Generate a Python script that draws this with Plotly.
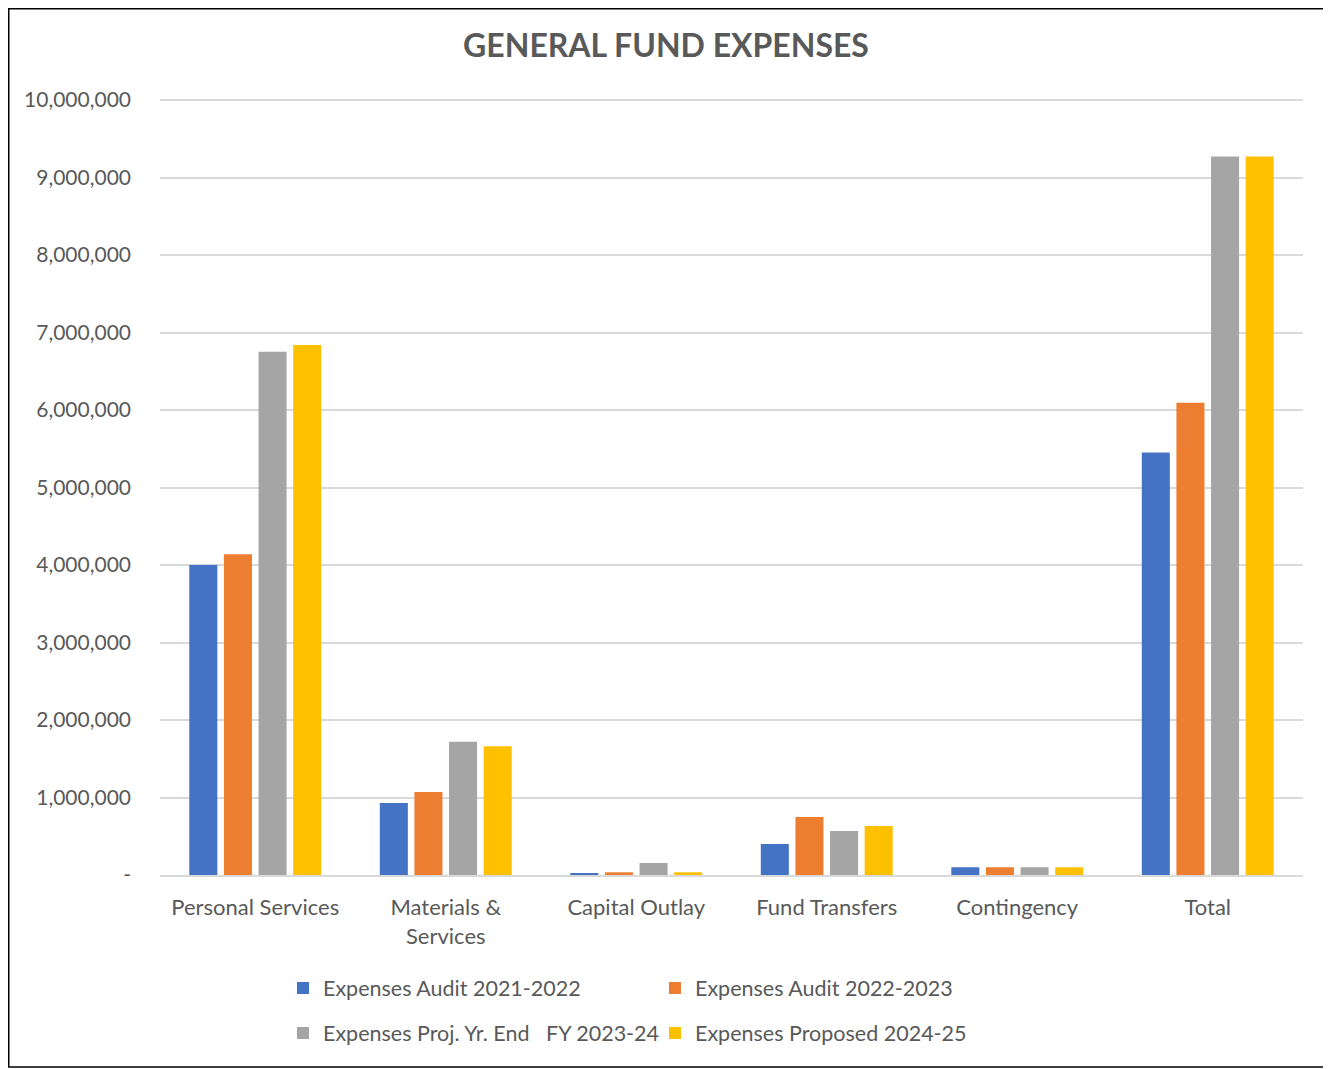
import plotly.graph_objects as go

categories = ["Personal Services", "Materials &<br>Services", "Capital Outlay",
              "Fund Transfers", "Contingency", "Total"]
series_names = ["Expenses Audit 2021-2022", "Expenses Audit 2022-2023",
                "Expenses Proj. Yr. End\u00a0\u00a0\u00a0FY 2023-24", "Expenses Proposed 2024-25"]
audit_2122 = [4000000, 930000, 20000, 400000, 100000, 5450000]
audit_2223 = [4140000, 1070000, 35000, 748000, 100000, 6093000]
proj_2324 = [6750000, 1720000, 155000, 568000, 100000, 9270000]
prop_2425 = [6840000, 1660000, 35000, 632000, 100000, 9270000]
colors = ["#4472C4", "#ED7D31", "#A5A5A5", "#FFC000"]
tick_vals = [0, 1000000, 2000000, 3000000, 4000000, 5000000, 6000000, 7000000, 8000000, 9000000, 10000000]
tick_text = ["-", "1,000,000", "2,000,000", "3,000,000", "4,000,000", "5,000,000",
             "6,000,000", "7,000,000", "8,000,000", "9,000,000", "10,000,000"]

# page body has an 8px margin, so the figure is laid out 8px up/left of the target
W, H = 1323, 1061
L, R, T, B = 152, 28, 88, 194
FONT = "Lato"
GREY = "#595959"
Y_TOP = 10000000 * 779 / 775  # a few px above the top tick so its gridline is drawn

fig = go.Figure()
all_series = [audit_2122, audit_2223, proj_2324, prop_2425]
legend_ids = ["legend", "legend", "legend2", "legend2"]
for name, vals, col, lg in zip(series_names, all_series, colors, legend_ids):
    fig.add_trace(go.Bar(x=categories, y=vals, name=name, marker_color=col,
                         marker_line_width=0, legend=lg))

legend_common = dict(orientation="h", xref="container", yref="container",
                     xanchor="left", yanchor="middle", entrywidth=327,
                     font=dict(family=FONT, size=21.5, color=GREY),
                     bgcolor="rgba(0,0,0,0)", traceorder="normal")

fig.update_layout(
    width=W, height=H,
    margin=dict(l=L, r=R, t=T, b=B, autoexpand=False),
    paper_bgcolor="white", plot_bgcolor="white",
    barmode="group", bargap=0.273, bargroupgap=0.19,
    title=dict(text="<b>GENERAL FUND EXPENSES</b>", x=(666 - 8) / W, xref="container",
               y=1 - 38 / H, yref="container", xanchor="center", yanchor="middle",
               font=dict(family=FONT, size=32, color=GREY)),
    legend=dict(x=275 / W, y=1 - 980 / H, **legend_common),
    legend2=dict(x=275 / W, y=1 - 1025 / H, **legend_common),
    xaxis=dict(showgrid=False, showline=True, linecolor="#d9d9d9", linewidth=2,
               ticks="", tickfont=dict(family=FONT, size=22, color=GREY),
               ticklabelstandoff=12, fixedrange=True),
    yaxis=dict(range=[0, Y_TOP], tickvals=tick_vals, ticktext=tick_text,
               showgrid=True, gridcolor="#d9d9d9", gridwidth=1.5,
               zeroline=False, showline=False, ticks="",
               tickfont=dict(family=FONT, size=21, color=GREY),
               ticklabelstandoff=28, fixedrange=True),
    shapes=[dict(type="rect", xref="paper", yref="paper",
                 x0=(0.75 - L) / (W - L - R), x1=(W + 5 - L) / (W - L - R),
                 y0=-(1059 - (H - B)) / (H - T - B), y1=((H - B) - 0.75) / (H - T - B),
                 line=dict(color="black", width=1.5), fillcolor="rgba(0,0,0,0)")],
)

fig.write_html("out.html")
